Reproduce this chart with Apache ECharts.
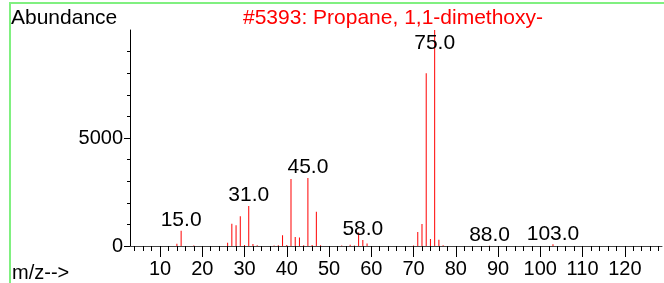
<!DOCTYPE html>
<html>
<head>
<meta charset="utf-8">
<script src="https://cdn.jsdelivr.net/npm/echarts@6/dist/echarts.min.js"></script>
<style>
  html, body { margin: 0; padding: 0; background: #fff; }
  #chart { width: 664px; height: 283px; }
</style>
</head>
<body>
<div id="chart"></div>
<script>
// m/z values and abundances
var mzValues = [14, 15, 18, 26, 27, 28, 29, 30, 31, 32, 33, 37, 38, 39, 40, 41, 42, 43, 44, 45, 46, 47, 48,
                53, 55, 56, 57, 58, 59, 70, 71, 72, 73, 74, 75, 76, 77, 88, 103];
var abundance = [100, 710, 20, 150, 1030, 960, 1375, 50, 1850, 90, 40, 20, 30, 500, 50, 3100, 420, 390, 30, 3150, 50, 1580, 30,
                 20, 60, 25, 630, 280, 110, 25, 650, 1020, 8000, 320, 10000, 290, 40, 10, 80];
var labelledMz = [15, 31, 45, 58, 75, 88, 103];

var xMinorTicks = [];
for (var t = 4; t <= 128; t += 2) xMinorTicks.push(t);
var xMajorTicks = [10, 20, 30, 40, 50, 60, 70, 80, 90, 100, 110, 120];
var yMinorTicks = [0, 1000, 2000, 3000, 4000, 5000, 6000, 7000, 8000, 9000];
var yMajorTicks = [0, 5000];

var FONT = 'Liberation Sans';
var maxAbund = Math.max.apply(null, abundance);

var seriesData = [];
for (var i = 0; i < mzValues.length; i++) {
    var item = { value: [mzValues[i], abundance[i]] };
    if (labelledMz.indexOf(mzValues[i]) >= 0) {
        item.label = abundance[i] === maxAbund
            ? { show: true, position: 'insideTop', distance: 3 }
            : { show: true, position: 'top', distance: 0 };
    }
    seriesData.push(item);
}

var chart = echarts.init(document.getElementById('chart'));

var xBase = { type: 'value', min: 2.9, max: 128.8, position: 'bottom', splitLine: { show: false } };
var yBase = { type: 'value', min: 0, max: 10000, position: 'left', splitLine: { show: false } };

chart.setOption({
    animation: false,
    title: {
        text: '#5393: Propane, 1,1-dimethoxy-',
        left: 243, top: 8, padding: 0,
        textStyle: { color: '#ff0000', fontSize: 21, fontWeight: 'normal', fontFamily: FONT }
    },
    grid: { left: 130, right: 2, top: 30, bottom: 37, containLabel: false, outerBoundsMode: 'none' },
    xAxis: [
        Object.assign({}, xBase, {
            axisLine: { show: true, onZero: false, lineStyle: { color: '#444', width: 1 } },
            axisTick: { show: true, customValues: xMinorTicks, length: 5, lineStyle: { color: '#000' } },
            axisLabel: { show: false }
        }),
        Object.assign({}, xBase, {
            axisLine: { show: false },
            axisTick: { show: true, customValues: xMajorTicks, length: 11, lineStyle: { color: '#000' } },
            axisLabel: { show: true, customValues: xMajorTicks, margin: 13, color: '#000', fontSize: 20, fontFamily: FONT }
        })
    ],
    yAxis: [
        Object.assign({}, yBase, {
            axisLine: { show: true, lineStyle: { color: '#000', width: 1 } },
            axisTick: { show: true, customValues: yMinorTicks, length: 3, lineStyle: { color: '#000' } },
            axisLabel: { show: false }
        }),
        Object.assign({}, yBase, {
            axisLine: { show: false },
            axisTick: { show: true, customValues: yMajorTicks, length: 6, lineStyle: { color: '#000' } },
            axisLabel: {
                show: true, customValues: yMajorTicks, margin: 7, color: '#000', fontSize: 20, fontFamily: FONT,
                formatter: function (v) { return String(v); }
            }
        })
    ],
    series: [{
        type: 'bar',
        xAxisIndex: 0,
        yAxisIndex: 0,
        barWidth: 1,
        itemStyle: { color: '#ff0000' },
        label: {
            show: false,
            color: '#000',
            fontSize: 21,
            fontFamily: FONT,
            formatter: function (p) { return p.value[0].toFixed(1); }
        },
        data: seriesData
    }],
    graphic: [
        { type: 'line', shape: { x1: 9, y1: 3, x2: 664, y2: 3 }, style: { stroke: '#80f080', lineWidth: 2 } },
        { type: 'line', shape: { x1: 10, y1: 3, x2: 10, y2: 283 }, style: { stroke: '#80f080', lineWidth: 2 } },
        { type: 'text', left: 11, top: 8, style: { text: 'Abundance', fill: '#000', fontSize: 21, fontFamily: FONT } },
        { type: 'text', left: 12, top: 263, style: { text: 'm/z-->', fill: '#000', fontSize: 20, fontFamily: FONT } }
    ]
});
</script>
</body>
</html>
